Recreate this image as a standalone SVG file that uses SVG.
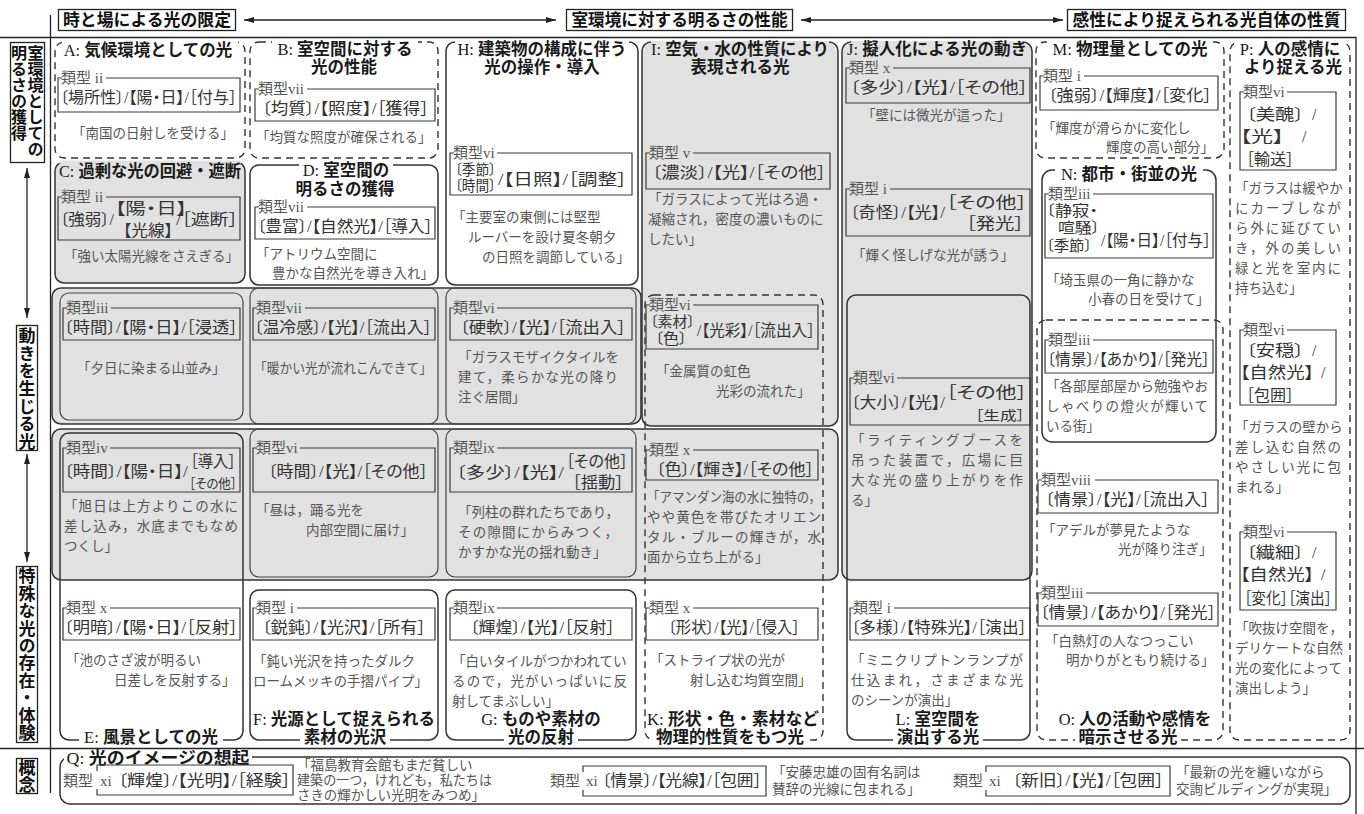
<svg xmlns="http://www.w3.org/2000/svg" width="1364" height="814" viewBox="0 0 1364 814">
<defs>
<marker id="ah" viewBox="0 0 10 7" refX="10" refY="3.5" markerWidth="10" markerHeight="7" markerUnits="userSpaceOnUse" orient="auto-start-reverse"><path d="M0,0.5 L10,3.5 L0,6.5 Z" fill="#222"/></marker>
<style>
text{font-family:"Liberation Serif","Noto Sans CJK JP",serif}
.sr{font-family:"Liberation Serif",serif;font-weight:400}
.hd{font-family:"Liberation Sans","Noto Sans CJK JP",sans-serif;font-size:17px;font-weight:700;fill:#111;text-anchor:middle}
.tt{font-family:"Liberation Sans","Noto Sans CJK JP",sans-serif;font-size:16.5px;font-weight:700;fill:#1a1a1a;text-anchor:middle}
.vt{font-family:"Noto Sans CJK JP",sans-serif;font-size:16px;font-weight:700;fill:#111;writing-mode:vertical-rl}
.v2{font-family:"Noto Sans CJK JP",sans-serif;font-size:17px;font-weight:700;fill:#111;writing-mode:vertical-rl}
.lg{font-size:15px;fill:#555}
.ct{font-size:16px;fill:#333;font-feature-settings:"palt"}
.c2{font-size:14.5px;fill:#333;font-feature-settings:"palt"}
.cs{font-size:13px;fill:#333;font-feature-settings:"palt"}
.q{font-size:13.5px;fill:#555}
.fr{fill:none;stroke:#222;stroke-width:1.3}
.ar{stroke:#222;stroke-width:1.3;marker-start:url(#ah);marker-end:url(#ah)}
.gw{fill:#fff;stroke:#333;stroke-width:1.5}
.gg{fill:#e1e1e1;stroke:#333;stroke-width:1.5}
.gn{fill:none;stroke:#333;stroke-width:1.5}
.gd{fill:none;stroke:#333;stroke-width:1.4;stroke-dasharray:7 5}
.cl{fill:none;stroke:#444;stroke-width:1.2}
.bx{fill:none;stroke:#3a3a3a;stroke-width:1.2}
.mw{fill:#fff}
.mg{fill:#e1e1e1}
</style>
</defs>
<rect width="1364" height="814" fill="#fff"/>

<g id="frame">
<line x1="0" y1="37.5" x2="1356" y2="37.5" class="fr"/>
<line x1="50.5" y1="15" x2="50.5" y2="793" class="fr"/>
<line x1="0" y1="748.5" x2="1364" y2="748.5" class="fr"/>
<line x1="1356" y1="37" x2="1356" y2="814" class="fr"/>
</g>

<g id="header">
<rect x="58.5" y="9.5" width="177" height="21" class="fr"/>
<text class="hd" x="147" y="26" textLength="168" lengthAdjust="spacingAndGlyphs">時と場による光の限定</text>
<rect x="566.5" y="9.5" width="226" height="21" class="fr"/>
<text class="hd" x="679.5" y="26" textLength="216" lengthAdjust="spacingAndGlyphs">室環境に対する明るさの性能</text>
<rect x="1067.5" y="9.5" width="278" height="21" class="fr"/>
<text class="hd" x="1206.5" y="26" textLength="268" lengthAdjust="spacingAndGlyphs">感性により捉えられる光自体の性質</text>
</g>

<g id="connectors">
<line x1="244" y1="20" x2="556" y2="20" class="ar"/>
<line x1="801" y1="20" x2="1063" y2="20" class="ar"/>
<line x1="27" y1="168" x2="27" y2="318" class="ar"/>
<line x1="27" y1="454" x2="27" y2="562" class="ar"/>
</g>

<g id="side1">
<rect x="10.5" y="42.5" width="34" height="120" class="fr"/>
<text class="vt" x="35.5" y="45">室環境としての</text>
<text class="vt" x="19" y="45">明るさの獲得</text>
</g>
<g id="side2">
<rect x="16.5" y="325.5" width="21" height="125" class="fr"/>
<text class="v2" x="27" y="327" letter-spacing="0.7">動きを生じる光</text>
</g>
<g id="side3">
<rect x="16.5" y="566.5" width="21" height="176" class="fr"/>
<text class="v2" x="27" y="567.5" letter-spacing="0.4">特殊な光の存在・体験</text>
</g>
<g id="side4">
<rect x="16.5" y="758.5" width="21" height="35" class="fr"/>
<text class="v2" x="27" y="759">概念</text>
</g>

<g id="bands">
<rect x="52" y="288" width="589" height="136" rx="9" class="gg"/>
<rect x="52" y="429" width="786" height="151" rx="9" class="gg"/>
<rect x="60" y="293" width="183" height="127" rx="9" class="cl"/>
<rect x="250" y="288" width="188" height="136" rx="9" class="cl"/>
<rect x="446" y="288" width="190" height="136" rx="9" class="cl"/>
<rect x="250" y="429" width="188" height="148" rx="9" class="cl"/>
<rect x="446" y="429" width="190" height="148" rx="9" class="cl"/>
</g>

<g id="A">
<rect x="55" y="42" width="190" height="116" rx="9" class="gd"/>
<rect x="62" y="39" width="176" height="6" class="mw"/>
<text class="tt" x="148" y="56"><tspan class="sr">A: </tspan>気候環境としての光</text>
<path d="M62 78H58V112H240V78H106" class="bx"/>
<text class="lg" x="61" y="82.5">類型<tspan class="sr"> ii</tspan></text>
<text class="ct" x="60" y="102.5" textLength="177" lengthAdjust="spacingAndGlyphs">〔場所性〕/【陽・日】/［付与］</text>
<text class="q" x="72" y="138">「南国の日射しを受ける」</text>
</g>

<g id="B">
<rect x="250" y="42" width="188" height="116" rx="9" class="gd"/>
<rect x="272" y="39" width="146" height="6" class="mw"/>
<text class="tt" x="345" y="54.5"><tspan class="sr">B: </tspan>室空間に対する</text>
<text class="tt" x="344" y="73">光の性能</text>
<path d="M259 89H255V121H435V89H307" class="bx"/>
<text class="lg" x="258" y="93.5">類型<tspan class="sr">vii</tspan></text>
<text class="ct" x="262" y="113.5" textLength="167" lengthAdjust="spacingAndGlyphs">〔均質〕/【照度】/［獲得］</text>
<text class="q" x="256" y="142">「均質な照度が確保される」</text>
</g>

<g id="C">
<rect x="55" y="162" width="190" height="121" rx="9" class="gg"/>
<rect x="59" y="160.5" width="182" height="3" class="mg"/>
<text class="tt" x="150" y="177" textLength="182" lengthAdjust="spacingAndGlyphs"><tspan class="sr">C: </tspan>過剰な光の回避・遮断</text>
<path d="M62 197H58V240H240V197H106" class="bx"/>
<text class="lg" x="61" y="201.5">類型<tspan class="sr"> ii</tspan></text>
<text class="ct" x="60" y="225" textLength="54" lengthAdjust="spacingAndGlyphs">〔強弱〕/</text>
<text class="ct" x="115" y="214" textLength="72" lengthAdjust="spacingAndGlyphs">【陽・日】</text>
<text class="ct" x="123" y="235.5" textLength="50" lengthAdjust="spacingAndGlyphs">【光線】</text>
<text class="ct" x="176" y="225" textLength="62" lengthAdjust="spacingAndGlyphs">/［遮断］</text>
<text class="q" x="64" y="261">「強い太陽光線をさえぎる」</text>
</g>

<g id="D">
<rect x="250" y="165" width="188" height="120" rx="9" class="gw"/>
<rect x="299" y="162" width="94" height="6" class="mw"/>
<text class="tt" x="346" y="176"><tspan class="sr">D: </tspan>室空間の</text>
<text class="tt" x="345" y="194.5">明るさの獲得</text>
<path d="M259 207H255V239H435V207H307" class="bx"/>
<text class="lg" x="258" y="211.5">類型<tspan class="sr">vii</tspan></text>
<text class="ct" x="257" y="231.5" textLength="176" lengthAdjust="spacingAndGlyphs">〔豊富〕/【自然光】/［導入］</text>
<text class="q" x="256" y="259">「アトリウム空間に</text>
<text class="q" x="272" y="278">豊かな自然光を導き入れ」</text>
</g>

<g id="H">
<rect x="446" y="42" width="192" height="243" rx="9" class="gw"/>
<rect x="455" y="39" width="174" height="6" class="mw"/>
<text class="tt" x="542" y="54.5"><tspan class="sr">H: </tspan>建築物の構成に伴う</text>
<text class="tt" x="542" y="73">光の操作・導入</text>
<path d="M454 153H450V195H632V153H497" class="bx"/>
<text class="lg" x="453" y="157.5">類型<tspan class="sr">vi</tspan></text>
<text class="c2" x="455" y="175" textLength="41" lengthAdjust="spacingAndGlyphs">〔季節〕</text>
<text class="c2" x="455" y="191" textLength="41" lengthAdjust="spacingAndGlyphs">〔時間〕</text>
<text class="ct" x="498" y="185" textLength="129" lengthAdjust="spacingAndGlyphs">/【日照】/［調整］</text>
<text class="q" x="452" y="222">「主要室の東側には堅型</text>
<text class="q" x="468" y="242">ルーバーを設け夏冬朝夕</text>
<text class="q" x="482" y="262">の日照を調節している」</text>
</g>

<g id="I">
<rect x="642" y="42" width="196" height="384" rx="9" class="gg"/>
<rect x="651" y="41" width="178" height="2.5" class="mg"/>
<text class="tt" x="740" y="54.5" textLength="178" lengthAdjust="spacingAndGlyphs"><tspan class="sr">I: </tspan>空気・水の性質により</text>
<text class="tt" x="740" y="73">表現される光</text>
<path d="M650 153H646V189H830V153H693" class="bx"/>
<text class="lg" x="649" y="157.5">類型<tspan class="sr"> v</tspan></text>
<text class="ct" x="652" y="178" textLength="174" lengthAdjust="spacingAndGlyphs">〔濃淡〕/【光】/［その他］</text>
<text class="q" x="648" y="204">「ガラスによって光はろ過・</text>
<text class="q" x="648" y="224">凝縮され，密度の濃いものに</text>
<text class="q" x="648" y="244">したい」</text>
</g>

<g id="J">
<rect x="842" y="42" width="190" height="538" rx="9" class="gg"/>
<rect x="851" y="41" width="172" height="2.5" class="mg"/>
<text class="tt" x="937" y="55" textLength="180" lengthAdjust="spacingAndGlyphs"><tspan class="sr">J: </tspan>擬人化による光の動き</text>
<path d="M850 68H846V103H1030V68H893" class="bx"/>
<text class="lg" x="849" y="72.5">類型<tspan class="sr"> x</tspan></text>
<text class="ct" x="850" y="93" textLength="178" lengthAdjust="spacingAndGlyphs">〔多少〕/【光】/［その他］</text>
<text class="q" x="862" y="120">「壁には微光が這った」</text>
<path d="M850 189H846V236H1030V189H890" class="bx"/>
<text class="lg" x="849" y="193.5">類型<tspan class="sr"> i</tspan></text>
<text class="ct" x="850" y="218" textLength="95" lengthAdjust="spacingAndGlyphs">〔奇怪〕/【光】/</text>
<text class="ct" x="946" y="208" textLength="81" lengthAdjust="spacingAndGlyphs">［その他］</text>
<text class="ct" x="966" y="229" textLength="58" lengthAdjust="spacingAndGlyphs">［発光］</text>
<text class="q" x="852" y="260">「輝く怪しげな光が誘う」</text>
</g>

<g id="row-iii">
<path d="M67 308H63V340H240V308H111" class="bx"/>
<text class="lg" x="66" y="312.5">類型<tspan class="sr">iii</tspan></text>
<text class="ct" x="64" y="332.5" textLength="174" lengthAdjust="spacingAndGlyphs">〔時間〕/【陽・日】/［浸透］</text>
<text class="q" x="77" y="373">「夕日に染まる山並み」</text>
<path d="M257 308H253V340H435V308H305" class="bx"/>
<text class="lg" x="256" y="312.5">類型<tspan class="sr">vii</tspan></text>
<text class="ct" x="254" y="332.5" textLength="178" lengthAdjust="spacingAndGlyphs">〔温冷感〕/【光】/［流出入］</text>
<text class="q" x="254" y="373" textLength="178" lengthAdjust="spacingAndGlyphs">「暖かい光が流れこんできて」</text>
<path d="M454 308H450V340H632V308H497" class="bx"/>
<text class="lg" x="453" y="312.5">類型<tspan class="sr">vi</tspan></text>
<text class="ct" x="460" y="332.5" textLength="166" lengthAdjust="spacingAndGlyphs">〔硬軟〕/【光】/［流出入］</text>
<text class="q" x="458" y="362">「ガラスモザイクタイルを</text>
<text class="q" x="458" y="382" textLength="160" lengthAdjust="spacing">建て，柔らかな光の降り</text>
<text class="q" x="458" y="402">注ぐ居間」</text>
</g>

<g id="row-iv">
<path d="M454 448H450V492H632V448H497" class="bx"/>
<text class="lg" x="453" y="452.5">類型<tspan class="sr">ix</tspan></text>
<text class="ct" x="456" y="477.5" textLength="108" lengthAdjust="spacingAndGlyphs">〔多少〕/【光】/</text>
<text class="ct" x="566" y="467" textLength="62" lengthAdjust="spacingAndGlyphs">［その他］</text>
<text class="ct" x="572" y="488" textLength="52" lengthAdjust="spacingAndGlyphs">［揺動］</text>
<text class="q" x="458" y="517">「列柱の群れたちであり，</text>
<text class="q" x="458" y="537" textLength="160" lengthAdjust="spacing">その隙間にからみつく，</text>
<text class="q" x="458" y="557">かすかな光の揺れ動き」</text>
<path d="M257 448H253V492H435V448H300" class="bx"/>
<text class="lg" x="256" y="452.5">類型<tspan class="sr">vi</tspan></text>
<text class="ct" x="268" y="477" textLength="160" lengthAdjust="spacingAndGlyphs">〔時間〕/【光】/［その他］</text>
<text class="q" x="256" y="515">「昼は，踊る光を</text>
<text class="q" x="306" y="535">内部空間に届け」</text>
</g>

<g id="E">
<rect x="60" y="433" width="183" height="307" rx="9" class="gn"/>
<rect x="79" y="737" width="144" height="6" class="mw"/>
<text class="tt" x="151" y="743"><tspan class="sr">E: </tspan>風景としての光</text>
<path d="M67 448H63V492H240V448H110" class="bx"/>
<text class="lg" x="66" y="452.5">類型<tspan class="sr">iv</tspan></text>
<text class="ct" x="64" y="477" textLength="124" lengthAdjust="spacingAndGlyphs">〔時間〕/【陽・日】/</text>
<text class="ct" x="190" y="467" textLength="46" lengthAdjust="spacingAndGlyphs">［導入］</text>
<text class="cs" x="189" y="488" textLength="48" lengthAdjust="spacingAndGlyphs">［その他］</text>
<text class="q" x="64" y="511" textLength="174" lengthAdjust="spacing">「旭日は上方よりこの水に</text>
<text class="q" x="64" y="531" textLength="174" lengthAdjust="spacing">差し込み，水底までもなめ</text>
<text class="q" x="64" y="551">つくし」</text>
<path d="M67 608H63V640H240V608H110" class="bx"/>
<text class="lg" x="66" y="612.5">類型<tspan class="sr"> x</tspan></text>
<text class="ct" x="64" y="632.5" textLength="174" lengthAdjust="spacingAndGlyphs">〔明暗〕/【陽・日】/［反射］</text>
<text class="q" x="66" y="665">「池のさざ波が明るい</text>
<text class="q" x="114" y="685">日差しを反射する」</text>
</g>

<g id="F">
<rect x="250" y="590" width="188" height="150" rx="9" class="gn"/>
<text class="tt" x="344" y="724.5" textLength="182" lengthAdjust="spacingAndGlyphs"><tspan class="sr">F: </tspan>光源として捉えられる</text>
<rect x="300" y="737" width="90" height="6" class="mw"/>
<text class="tt" x="345" y="743">素材の光沢</text>
<path d="M257 608H253V640H435V608H297" class="bx"/>
<text class="lg" x="256" y="612.5">類型<tspan class="sr"> i</tspan></text>
<text class="ct" x="262" y="632.5" textLength="164" lengthAdjust="spacingAndGlyphs">〔鋭鈍〕/【光沢】/［所有］</text>
<text class="q" x="253" y="666">「鈍い光沢を持ったダルク</text>
<text class="q" x="253" y="686">ロームメッキの手摺パイプ」</text>
</g>

<g id="G">
<rect x="446" y="590" width="190" height="150" rx="9" class="gn"/>
<text class="tt" x="541" y="724.5"><tspan class="sr">G: </tspan>ものや素材の</text>
<rect x="504" y="737" width="74" height="6" class="mw"/>
<text class="tt" x="541" y="743">光の反射</text>
<path d="M454 608H450V640H632V608H497" class="bx"/>
<text class="lg" x="453" y="612.5">類型<tspan class="sr">ix</tspan></text>
<text class="ct" x="470" y="632.5" textLength="145" lengthAdjust="spacingAndGlyphs">〔輝煌〕/【光】/［反射］</text>
<text class="q" x="452" y="666">「白いタイルがつかわれてい</text>
<text class="q" x="452" y="686" textLength="175" lengthAdjust="spacing">るので，光がいっぱいに反</text>
<text class="q" x="452" y="706">射してまぶしい」</text>
</g>

<g id="K">
<rect x="645" y="295" width="178" height="445" rx="9" class="gd"/>
<path d="M650 305H646V349H818V305H693" class="bx"/>
<text class="lg" x="649" y="309.5">類型<tspan class="sr">vi</tspan></text>
<text class="c2" x="650" y="327" textLength="45" lengthAdjust="spacingAndGlyphs">〔素材〕</text>
<text class="c2" x="655" y="344" textLength="32" lengthAdjust="spacingAndGlyphs">〔色〕</text>
<text class="ct" x="697" y="336" textLength="118" lengthAdjust="spacingAndGlyphs">/【光彩】/［流出入］</text>
<text class="q" x="656" y="376">「金属質の虹色</text>
<text class="q" x="716" y="396">光彩の流れた」</text>
<path d="M650 450H646V480H818V450H693" class="bx"/>
<text class="lg" x="649" y="454.5">類型<tspan class="sr"> x</tspan></text>
<text class="ct" x="656" y="474.5" textLength="158" lengthAdjust="spacingAndGlyphs">〔色〕/【輝き】/［その他］</text>
<text class="q" x="647" y="502" textLength="174" lengthAdjust="spacingAndGlyphs">「アマンダン海の水に独特の，</text>
<text class="q" x="647" y="522" textLength="174" lengthAdjust="spacing">やや黄色を帯びたオリエン</text>
<text class="q" x="647" y="542" textLength="174" lengthAdjust="spacing">タル・ブルーの輝きが，水</text>
<text class="q" x="647" y="562">面から立ち上がる」</text>
<path d="M650 608H646V640H818V608H693" class="bx"/>
<text class="lg" x="649" y="612.5">類型<tspan class="sr"> x</tspan></text>
<text class="ct" x="668" y="632.5" textLength="132" lengthAdjust="spacingAndGlyphs">〔形状〕/【光】/［侵入］</text>
<text class="q" x="650" y="665">「ストライプ状の光が</text>
<text class="q" x="690" y="685">射し込む均質空間」</text>
<text class="tt" x="733" y="724.5" textLength="172" lengthAdjust="spacingAndGlyphs"><tspan class="sr">K: </tspan>形状・色・素材など</text>
<rect x="651" y="737" width="158" height="6" class="mw"/>
<text class="tt" x="730" y="743">物理的性質をもつ光</text>
</g>

<g id="L">
<rect x="847" y="295" width="183" height="445" rx="9" class="gn"/>
<path d="M854 378H850V425H1030V378H897" class="bx"/>
<text class="lg" x="853" y="382.5">類型<tspan class="sr">vi</tspan></text>
<text class="ct" x="851" y="408" textLength="94" lengthAdjust="spacingAndGlyphs">〔大小〕/【光】/</text>
<text class="ct" x="946" y="398" textLength="81" lengthAdjust="spacingAndGlyphs">［その他］</text>
<text class="cs" x="975" y="419.5" textLength="50" lengthAdjust="spacingAndGlyphs">［生成］</text>
<text class="q" x="851" y="445" textLength="172" lengthAdjust="spacing">「ライティングブースを</text>
<text class="q" x="851" y="465" textLength="172" lengthAdjust="spacing">吊った装置で，広場に巨</text>
<text class="q" x="851" y="485" textLength="172" lengthAdjust="spacing">大な光の盛り上がりを作</text>
<text class="q" x="851" y="505">る」</text>
<path d="M854 608H850V640H1030V608H894" class="bx"/>
<text class="lg" x="853" y="612.5">類型<tspan class="sr"> i</tspan></text>
<text class="ct" x="851" y="632.5" textLength="176" lengthAdjust="spacingAndGlyphs">〔多様〕/【特殊光】/［演出］</text>
<text class="q" x="851" y="665" textLength="172" lengthAdjust="spacing">「ミニクリプトンランプが</text>
<text class="q" x="851" y="685" textLength="172" lengthAdjust="spacing">仕込まれ，さまざまな光</text>
<text class="q" x="851" y="705">のシーンが演出」</text>
<text class="tt" x="938" y="724.5"><tspan class="sr">L: </tspan>室空間を</text>
<rect x="893" y="737" width="90" height="6" class="mw"/>
<text class="tt" x="938" y="743">演出する光</text>
</g>

<g id="M">
<rect x="1036" y="42" width="188" height="116" rx="9" class="gd"/>
<rect x="1047" y="39" width="166" height="6" class="mw"/>
<text class="tt" x="1130" y="55"><tspan class="sr">M: </tspan>物理量としての光</text>
<path d="M1044 76H1040V110H1218V76H1084" class="bx"/>
<text class="lg" x="1043" y="80.5">類型<tspan class="sr"> i</tspan></text>
<text class="ct" x="1048" y="100.5" textLength="164" lengthAdjust="spacingAndGlyphs">〔強弱〕/【輝度】/［変化］</text>
<text class="q" x="1042" y="133">「輝度が滑らかに変化し</text>
<text class="q" x="1106" y="152">輝度の高い部分」</text>
</g>

<g id="N">
<rect x="1042" y="170" width="174" height="272" rx="10" class="gw"/>
<rect x="1055" y="167" width="148" height="6" class="mw"/>
<text class="tt" x="1129" y="180"><tspan class="sr">N: </tspan>都市・街並の光</text>
<path d="M1049 194H1045V258H1213V194H1093" class="bx"/>
<text class="lg" x="1048" y="198.5">類型<tspan class="sr">iii</tspan></text>
<text class="c2" x="1046" y="216" textLength="52" lengthAdjust="spacingAndGlyphs">〔静寂・</text>
<text class="c2" x="1058" y="233" textLength="42" lengthAdjust="spacingAndGlyphs">喧騒〕</text>
<text class="c2" x="1046" y="251" textLength="46" lengthAdjust="spacingAndGlyphs">〔季節〕</text>
<text class="ct" x="1101" y="246" textLength="110" lengthAdjust="spacingAndGlyphs">/【陽・日】/［付与］</text>
<text class="q" x="1046" y="285">「埼玉県の一角に静かな</text>
<text class="q" x="1088" y="304">小春の日を受けて」</text>
</g>

<g id="O">
<rect x="1037" y="320" width="186" height="420" rx="9" class="gd"/>
<path d="M1049 340H1045V373H1213V340H1093" class="bx"/>
<text class="lg" x="1048" y="344.5">類型<tspan class="sr">iii</tspan></text>
<text class="ct" x="1047" y="364.5" textLength="163" lengthAdjust="spacingAndGlyphs">〔情景〕/【あかり】/［発光］</text>
<text class="q" x="1046" y="391">「各部屋部屋から勉強やお</text>
<text class="q" x="1046" y="411" textLength="162" lengthAdjust="spacing">しゃべりの燈火が輝いて</text>
<text class="q" x="1046" y="431">いる街」</text>
<path d="M1042 480H1038V513H1218V480H1095" class="bx"/>
<text class="lg" x="1041" y="484.5">類型<tspan class="sr">viii</tspan></text>
<text class="ct" x="1045" y="504.5" textLength="165" lengthAdjust="spacingAndGlyphs">〔情景〕/【光】/［流出入］</text>
<text class="q" x="1042" y="535">「アデルが夢見たような</text>
<text class="q" x="1118" y="554">光が降り注ぎ」</text>
<path d="M1042 593H1038V626H1218V593H1086" class="bx"/>
<text class="lg" x="1041" y="597.5">類型<tspan class="sr">iii</tspan></text>
<text class="ct" x="1040" y="617.5" textLength="176" lengthAdjust="spacingAndGlyphs">〔情景〕/【あかり】/［発光］</text>
<text class="q" x="1045" y="646">「白熱灯の人なつっこい</text>
<text class="q" x="1066" y="665">明かりがともり続ける」</text>
<text class="tt" x="1135" y="724.5"><tspan class="sr">O: </tspan>人の活動や感情を</text>
<rect x="1075" y="737" width="106" height="6" class="mw"/>
<text class="tt" x="1128" y="743">暗示させる光</text>
</g>

<g id="P">
<rect x="1230" y="42" width="120" height="698" rx="9" class="gd"/>
<rect x="1238" y="39" width="104" height="6" class="mw"/>
<text class="tt" x="1290" y="54.5"><tspan class="sr">P: </tspan>人の感情に</text>
<text class="tt" x="1293" y="73">より捉える光</text>
<path d="M1244 92H1240V170H1336V92H1287" class="bx"/>
<text class="lg" x="1243" y="96.5">類型<tspan class="sr">vi</tspan></text>
<text class="ct" x="1246" y="120" textLength="58" lengthAdjust="spacingAndGlyphs">〔美醜〕</text>
<text class="ct" x="1312" y="120">/</text>
<text class="ct" x="1240" y="142" textLength="44" lengthAdjust="spacingAndGlyphs">【光】</text>
<text class="ct" x="1302" y="142">/</text>
<text class="ct" x="1246" y="165" textLength="48" lengthAdjust="spacingAndGlyphs">［輸送］</text>
<text class="q" x="1235" y="193">「ガラスは緩やか</text>
<text class="q" x="1235" y="213" textLength="106" lengthAdjust="spacing">にカーブしなが</text>
<text class="q" x="1235" y="233" textLength="106" lengthAdjust="spacing">ら外に延びてい</text>
<text class="q" x="1235" y="253" textLength="106" lengthAdjust="spacing">き，外の美しい</text>
<text class="q" x="1235" y="273" textLength="106" lengthAdjust="spacing">緑と光を室内に</text>
<text class="q" x="1235" y="293">持ち込む」</text>
<path d="M1244 330H1240V405H1336V330H1287" class="bx"/>
<text class="lg" x="1243" y="334.5">類型<tspan class="sr">vi</tspan></text>
<text class="ct" x="1246" y="356" textLength="58" lengthAdjust="spacingAndGlyphs">〔安穏〕</text>
<text class="ct" x="1312" y="356">/</text>
<text class="ct" x="1240" y="378" textLength="74" lengthAdjust="spacingAndGlyphs">【自然光】</text>
<text class="ct" x="1321" y="378">/</text>
<text class="ct" x="1246" y="401" textLength="48" lengthAdjust="spacingAndGlyphs">［包囲］</text>
<text class="q" x="1235" y="432">「ガラスの壁から</text>
<text class="q" x="1235" y="452" textLength="106" lengthAdjust="spacing">差し込む自然の</text>
<text class="q" x="1235" y="472" textLength="106" lengthAdjust="spacing">やさしい光に包</text>
<text class="q" x="1235" y="492">まれる」</text>
<path d="M1244 532H1240V610H1336V532H1287" class="bx"/>
<text class="lg" x="1243" y="536.5">類型<tspan class="sr">vi</tspan></text>
<text class="ct" x="1246" y="558" textLength="58" lengthAdjust="spacingAndGlyphs">〔繊細〕</text>
<text class="ct" x="1312" y="558">/</text>
<text class="ct" x="1240" y="580" textLength="74" lengthAdjust="spacingAndGlyphs">【自然光】</text>
<text class="ct" x="1321" y="580">/</text>
<text class="ct" x="1244" y="604" textLength="88" lengthAdjust="spacingAndGlyphs">［変化］［演出］</text>
<text class="q" x="1235" y="633">「吹抜け空間を，</text>
<text class="q" x="1235" y="653">デリケートな自然</text>
<text class="q" x="1235" y="673">光の変化によって</text>
<text class="q" x="1235" y="693">演出しよう」</text>
</g>

<g id="Q">
<rect x="60" y="757" width="1290" height="47" rx="10" class="gn"/>
<rect x="64" y="754" width="188" height="6" class="mw"/>
<text class="tt" x="158" y="764" textLength="183" lengthAdjust="spacingAndGlyphs"><tspan class="sr">Q: </tspan>光のイメージの想起</text>
<path d="M97 771V765H293V795H97V789" class="bx"/>
<text class="lg" x="63" y="786" font-size="16">類型</text>
<text class="lg sr" x="100" y="786" font-size="16">xi</text>
<text class="ct" x="118" y="786" textLength="173" lengthAdjust="spacingAndGlyphs">〔輝煌〕/【光明】/［経験］</text>
<text class="q" x="297" y="770">「福島教育会館もまだ貧しい</text>
<text class="q" x="297" y="785" textLength="195" lengthAdjust="spacingAndGlyphs">建築の一つ，けれども，私たちは</text>
<text class="q" x="297" y="800" textLength="188" lengthAdjust="spacingAndGlyphs">さきの輝かしい光明をみつめ」</text>
<path d="M583 772V766H766V796H583V790" class="bx"/>
<text class="lg" x="550" y="786" font-size="16">類型</text>
<text class="lg sr" x="586" y="786" font-size="16">xi</text>
<text class="ct" x="602" y="786" textLength="160" lengthAdjust="spacingAndGlyphs">〔情景〕/【光線】/［包囲］</text>
<text class="q" x="772" y="777">「安藤忠雄の固有名詞は</text>
<text class="q" x="772" y="794">賛辞の光線に包まれる」</text>
<path d="M986 772V766H1170V796H986V790" class="bx"/>
<text class="lg" x="953" y="786" font-size="16">類型</text>
<text class="lg sr" x="989" y="786" font-size="16">xi</text>
<text class="ct" x="1012" y="786" textLength="152" lengthAdjust="spacingAndGlyphs">〔新旧〕/【光】/［包囲］</text>
<text class="q" x="1176" y="777">「最新の光を纏いながら</text>
<text class="q" x="1176" y="794">交詢ビルディングが実現」</text>
</g>
</svg>
